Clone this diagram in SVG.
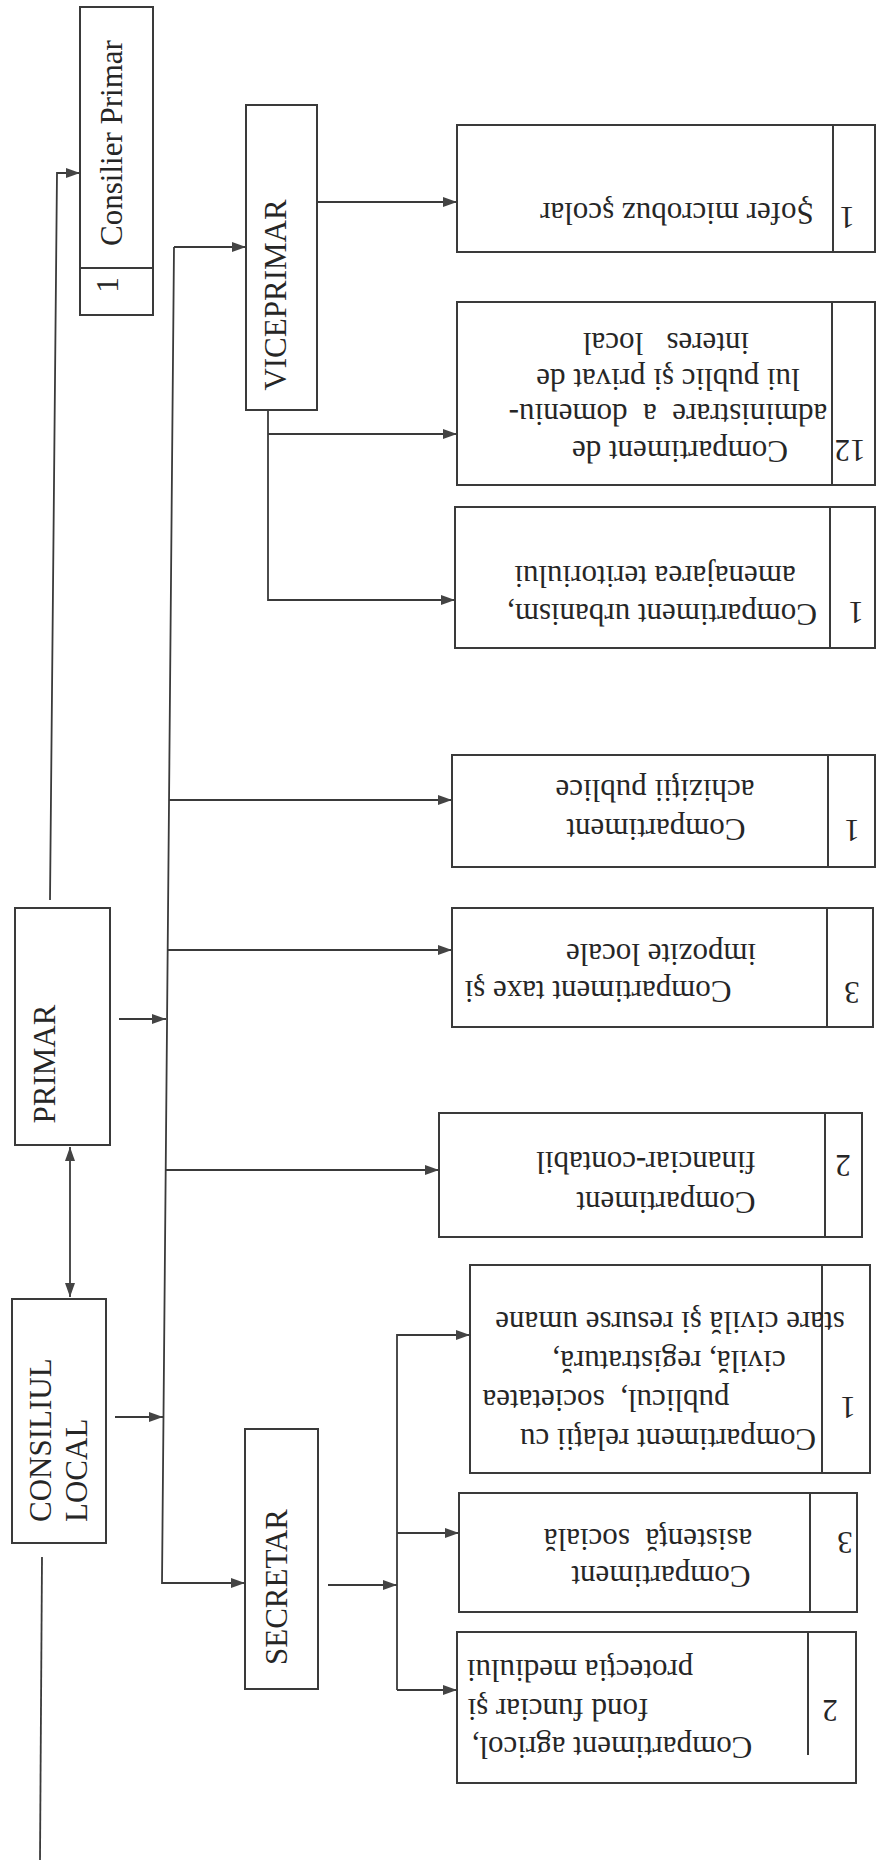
<svg xmlns="http://www.w3.org/2000/svg" width="877" height="1863" viewBox="0 0 877 1863">
<style>
.bg{fill:#ffffff}
.box{fill:none;stroke:#3a3a3a;stroke-width:2}
.div{fill:none;stroke:#3a3a3a;stroke-width:2}
.t{font-family:"Liberation Serif","Times New Roman",serif;font-size:31px;fill:#262626;white-space:pre}
.m{text-anchor:middle}
.s{text-anchor:start}
.con{fill:none;stroke:#3a3a3a;stroke-width:1.8}
</style>
<defs>
<marker id="ah" viewBox="0 0 14 10" refX="14" refY="5" markerWidth="14" markerHeight="10" markerUnits="userSpaceOnUse" orient="auto-start-reverse">
<path d="M0,0 L14,5 L0,10 z" fill="#444444"/>
</marker>
</defs>
<rect class="bg" x="0" y="0" width="877" height="1863"/>

<g id="connectors">
<path class="con" d="M50,900 L57,173 H80" marker-end="url(#ah)"/>
<path class="con" d="M42,1557 L40,1860"/>
<path class="con" d="M70,1147 V1297" marker-start="url(#ah)" marker-end="url(#ah)"/>
<path class="con" d="M174,247 H246" marker-end="url(#ah)"/>
<path class="con" d="M174,247 L162,1583 H245" marker-end="url(#ah)"/>
<path class="con" d="M119,1019 H166" marker-end="url(#ah)"/>
<path class="con" d="M115,1417 H163" marker-end="url(#ah)"/>
<path class="con" d="M169,800 H452" marker-end="url(#ah)"/>
<path class="con" d="M167.7,950 H452" marker-end="url(#ah)"/>
<path class="con" d="M165.7,1170 H439" marker-end="url(#ah)"/>
<path class="con" d="M318,202 H457" marker-end="url(#ah)"/>
<path class="con" d="M268,410 V600 H455" marker-end="url(#ah)"/>
<path class="con" d="M268,434 H457" marker-end="url(#ah)"/>
<path class="con" d="M328,1585 H397" marker-end="url(#ah)"/>
<path class="con" d="M397,1690 V1335 H470" marker-end="url(#ah)"/>
<path class="con" d="M397,1690 H457" marker-end="url(#ah)"/>
<path class="con" d="M397,1533 H459" marker-end="url(#ah)"/>
</g>

<g id="consilier-primar">
<rect class="box" x="80" y="7" width="73" height="308"/>
<line class="div" x1="80" y1="268" x2="153" y2="268"/>
<text class="t m" transform="translate(122,143) rotate(-90)">Consilier Primar</text>
<text class="t m" transform="translate(118,285) rotate(-90)">1</text>
</g>

<g id="viceprimar">
<rect class="box" x="246" y="105" width="71" height="305"/>
<text class="t m" transform="translate(286,295) rotate(-90)">VICEPRIMAR</text>
</g>

<g id="primar">
<rect class="box" x="15" y="908" width="95" height="237"/>
<text class="t m" transform="translate(55,1064) rotate(-90)">PRIMAR</text>
</g>

<g id="consiliul-local">
<rect class="box" x="12" y="1299" width="94" height="244"/>
<text class="t s" transform="translate(51,1522) rotate(-90)">CONSILIUL</text>
<text class="t s" transform="translate(87,1522) rotate(-90)">LOCAL</text>
</g>

<g id="secretar">
<rect class="box" x="245" y="1429" width="73" height="260"/>
<text class="t m" transform="translate(287,1587) rotate(-90)">SECRETAR</text>
</g>

<g id="sofer">
<rect class="box" x="457" y="125" width="418" height="127"/>
<line class="div" x1="833" y1="125" x2="833" y2="252"/>
<text class="t m" transform="translate(677,203) rotate(180)">Şofer microbuz şcolar</text>
<text class="t m" transform="translate(847,207) rotate(180)">1</text>
</g>

<g id="administrare">
<rect class="box" x="457" y="302" width="418" height="183"/>
<line class="div" x1="832" y1="302" x2="832" y2="485"/>
<text class="t m" transform="translate(680,441) rotate(180)">Compartiment de</text>
<text class="t m" transform="translate(668,404) rotate(180)">administrare  a  domeniu-</text>
<text class="t m" transform="translate(668,369) rotate(180)">lui public şi privat de</text>
<text class="t m" transform="translate(666,333) rotate(180)">interes   local</text>
<text class="t m" transform="translate(850,440) rotate(180)">12</text>
</g>

<g id="urbanism">
<rect class="box" x="455" y="507" width="420" height="141"/>
<line class="div" x1="830" y1="507" x2="830" y2="648"/>
<text class="t m" transform="translate(662,604) rotate(180)">Compartiment urbanism,</text>
<text class="t m" transform="translate(655,566) rotate(180)">amenajarea teritoriului</text>
<text class="t m" transform="translate(856,602) rotate(180)">1</text>
</g>

<g id="achizitii">
<rect class="box" x="452" y="755" width="423" height="112"/>
<line class="div" x1="828" y1="755" x2="828" y2="867"/>
<text class="t m" transform="translate(656,819) rotate(180)">Compartiment</text>
<text class="t m" transform="translate(655,780) rotate(180)">achiziţii publice</text>
<text class="t m" transform="translate(852,820) rotate(180)">1</text>
</g>

<g id="taxe">
<rect class="box" x="452" y="908" width="421" height="119"/>
<line class="div" x1="827" y1="908" x2="827" y2="1027"/>
<text class="t m" transform="translate(598,981) rotate(180)">Compartiment taxe şi</text>
<text class="t m" transform="translate(661,944) rotate(180)">impozite locale</text>
<text class="t m" transform="translate(852,982) rotate(180)">3</text>
</g>

<g id="financiar">
<rect class="box" x="439" y="1113" width="423" height="124"/>
<line class="div" x1="825" y1="1113" x2="825" y2="1237"/>
<text class="t m" transform="translate(666,1192) rotate(180)">Compartiment</text>
<text class="t m" transform="translate(646,1152) rotate(180)">financiar-contabil</text>
<text class="t m" transform="translate(843,1155) rotate(180)">2</text>
</g>

<g id="relatii">
<rect class="box" x="470" y="1265" width="400" height="208"/>
<line class="div" x1="822" y1="1265" x2="822" y2="1473"/>
<text class="t m" transform="translate(668,1429) rotate(180)">Compartiment relaţii cu</text>
<text class="t m" transform="translate(606,1390) rotate(180)">publicul,  societatea</text>
<text class="t m" transform="translate(669,1351) rotate(180)">civilă, registratură,</text>
<text class="t m" transform="translate(670,1312) rotate(180)">stare civilă şi resurse umane</text>
<text class="t m" transform="translate(848,1397) rotate(180)">1</text>
</g>

<g id="asistenta">
<rect class="box" x="459" y="1493" width="398" height="119"/>
<line class="div" x1="810" y1="1493" x2="810" y2="1612"/>
<text class="t m" transform="translate(661,1566) rotate(180)">Compartiment</text>
<text class="t m" transform="translate(648,1529) rotate(180)">asistenţă  socială</text>
<text class="t m" transform="translate(845,1532) rotate(180)">3</text>
</g>

<g id="agricol">
<rect class="box" x="457" y="1632" width="399" height="151"/>
<line class="div" x1="808" y1="1632" x2="808" y2="1755"/>
<text class="t m" transform="translate(612,1737) rotate(180)">Compartiment agricol,</text>
<text class="t m" transform="translate(558,1699) rotate(180)">fond funciar şi</text>
<text class="t m" transform="translate(580,1660) rotate(180)">protecţia mediului</text>
<text class="t m" transform="translate(830,1700) rotate(180)">2</text>
</g>
</svg>
